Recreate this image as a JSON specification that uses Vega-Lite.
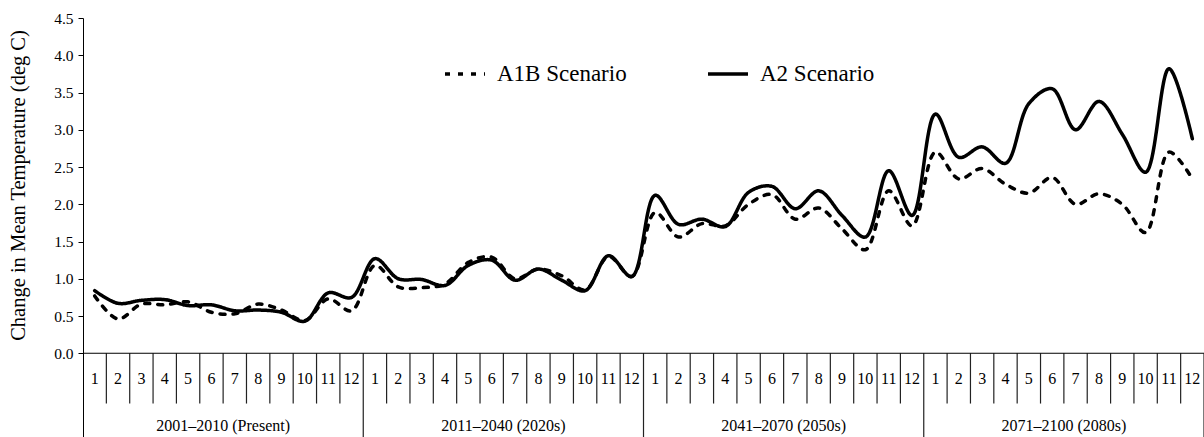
{
  "$schema": "https://vega.github.io/schema/vega-lite/v6.json",
  "width": 1121,
  "height": 419,
  "autosize": "none",
  "padding": {"left": 83, "top": 18, "right": 0, "bottom": 0},
  "background": "white",
  "config": {
    "view": {"stroke": null},
    "font": "Liberation Serif",
    "text": {"font": "Liberation Serif"},
    "axis": {"labelFont": "Liberation Serif", "titleFont": "Liberation Serif"},
    "legend": {"labelFont": "Liberation Serif", "titleFont": "Liberation Serif"}
  },
  "datasets": {
    "temps": [
      {"t": 1, "period": "2001–2010 (Present)", "month": 1, "A1B": 0.77, "A2": 0.84},
      {"t": 2, "period": "2001–2010 (Present)", "month": 2, "A1B": 0.46, "A2": 0.67},
      {"t": 3, "period": "2001–2010 (Present)", "month": 3, "A1B": 0.66, "A2": 0.71},
      {"t": 4, "period": "2001–2010 (Present)", "month": 4, "A1B": 0.65, "A2": 0.72},
      {"t": 5, "period": "2001–2010 (Present)", "month": 5, "A1B": 0.69, "A2": 0.64},
      {"t": 6, "period": "2001–2010 (Present)", "month": 6, "A1B": 0.55, "A2": 0.65},
      {"t": 7, "period": "2001–2010 (Present)", "month": 7, "A1B": 0.53, "A2": 0.57},
      {"t": 8, "period": "2001–2010 (Present)", "month": 8, "A1B": 0.66, "A2": 0.58},
      {"t": 9, "period": "2001–2010 (Present)", "month": 9, "A1B": 0.58, "A2": 0.55},
      {"t": 10, "period": "2001–2010 (Present)", "month": 10, "A1B": 0.44, "A2": 0.43},
      {"t": 11, "period": "2001–2010 (Present)", "month": 11, "A1B": 0.73, "A2": 0.81},
      {"t": 12, "period": "2001–2010 (Present)", "month": 12, "A1B": 0.57, "A2": 0.75},
      {"t": 13, "period": "2011–2040 (2020s)", "month": 1, "A1B": 1.18, "A2": 1.27},
      {"t": 14, "period": "2011–2040 (2020s)", "month": 2, "A1B": 0.89, "A2": 1.0},
      {"t": 15, "period": "2011–2040 (2020s)", "month": 3, "A1B": 0.88, "A2": 0.99},
      {"t": 16, "period": "2011–2040 (2020s)", "month": 4, "A1B": 0.93, "A2": 0.91},
      {"t": 17, "period": "2011–2040 (2020s)", "month": 5, "A1B": 1.22, "A2": 1.18},
      {"t": 18, "period": "2011–2040 (2020s)", "month": 6, "A1B": 1.29, "A2": 1.25},
      {"t": 19, "period": "2011–2040 (2020s)", "month": 7, "A1B": 1.0, "A2": 0.98},
      {"t": 20, "period": "2011–2040 (2020s)", "month": 8, "A1B": 1.13, "A2": 1.13},
      {"t": 21, "period": "2011–2040 (2020s)", "month": 9, "A1B": 1.04, "A2": 0.98},
      {"t": 22, "period": "2011–2040 (2020s)", "month": 10, "A1B": 0.85, "A2": 0.84},
      {"t": 23, "period": "2011–2040 (2020s)", "month": 11, "A1B": 1.3, "A2": 1.31},
      {"t": 24, "period": "2011–2040 (2020s)", "month": 12, "A1B": 1.03, "A2": 1.03},
      {"t": 25, "period": "2041–2070 (2050s)", "month": 1, "A1B": 1.89, "A2": 2.12},
      {"t": 26, "period": "2041–2070 (2050s)", "month": 2, "A1B": 1.56, "A2": 1.73},
      {"t": 27, "period": "2041–2070 (2050s)", "month": 3, "A1B": 1.74, "A2": 1.8},
      {"t": 28, "period": "2041–2070 (2050s)", "month": 4, "A1B": 1.71, "A2": 1.7},
      {"t": 29, "period": "2041–2070 (2050s)", "month": 5, "A1B": 2.0, "A2": 2.16},
      {"t": 30, "period": "2041–2070 (2050s)", "month": 6, "A1B": 2.13, "A2": 2.24},
      {"t": 31, "period": "2041–2070 (2050s)", "month": 7, "A1B": 1.8, "A2": 1.94},
      {"t": 32, "period": "2041–2070 (2050s)", "month": 8, "A1B": 1.95, "A2": 2.18},
      {"t": 33, "period": "2041–2070 (2050s)", "month": 9, "A1B": 1.67, "A2": 1.85},
      {"t": 34, "period": "2041–2070 (2050s)", "month": 10, "A1B": 1.39, "A2": 1.56},
      {"t": 35, "period": "2041–2070 (2050s)", "month": 11, "A1B": 2.18, "A2": 2.45},
      {"t": 36, "period": "2041–2070 (2050s)", "month": 12, "A1B": 1.71, "A2": 1.85},
      {"t": 37, "period": "2071–2100 (2080s)", "month": 1, "A1B": 2.7, "A2": 3.21},
      {"t": 38, "period": "2071–2100 (2080s)", "month": 2, "A1B": 2.34, "A2": 2.63},
      {"t": 39, "period": "2071–2100 (2080s)", "month": 3, "A1B": 2.48, "A2": 2.77},
      {"t": 40, "period": "2071–2100 (2080s)", "month": 4, "A1B": 2.27, "A2": 2.55},
      {"t": 41, "period": "2071–2100 (2080s)", "month": 5, "A1B": 2.15, "A2": 3.35},
      {"t": 42, "period": "2071–2100 (2080s)", "month": 6, "A1B": 2.36, "A2": 3.55},
      {"t": 43, "period": "2071–2100 (2080s)", "month": 7, "A1B": 2.0, "A2": 3.0},
      {"t": 44, "period": "2071–2100 (2080s)", "month": 8, "A1B": 2.14, "A2": 3.38},
      {"t": 45, "period": "2071–2100 (2080s)", "month": 9, "A1B": 2.0, "A2": 2.94},
      {"t": 46, "period": "2071–2100 (2080s)", "month": 10, "A1B": 1.62, "A2": 2.43},
      {"t": 47, "period": "2071–2100 (2080s)", "month": 11, "A1B": 2.7, "A2": 3.82},
      {"t": 48, "period": "2071–2100 (2080s)", "month": 12, "A1B": 2.34, "A2": 2.88}
    ]
  },
  "layer": [
    {
      "data": {"name": "temps"},
      "transform": [{"fold": ["A1B", "A2"], "as": ["scenario", "value"]}],
      "mark": {"type": "line", "interpolate": "catmull-rom", "color": "black", "strokeCap": "round", "strokeWidth": 3.5},
      "encoding": {
        "x": {"field": "t", "type": "quantitative", "scale": {"domain": [0.5, 48.5], "nice": false, "zero": false}, "axis": null},
        "y": {
          "field": "value",
          "type": "quantitative",
          "scale": {"domain": [-1.124, 4.5], "nice": false, "zero": false},
          "axis": {
            "values": [0, 0.5, 1, 1.5, 2, 2.5, 3, 3.5, 4, 4.5],
            "format": ".1f",
            "title": "Change in Mean Temperature (deg C)",
            "titleFont": "Liberation Serif",
            "titleFontSize": 20.5,
            "titleFontWeight": "normal",
            "titleColor": "black",
            "titleAngle": 270,
            "titleX": -65,
            "titleY": 167,
            "titleAlign": "center",
            "titleBaseline": "middle",
            "labelFont": "Liberation Serif",
            "labelFontSize": 15.5,
            "labelColor": "black",
            "labelPadding": 5,
            "tickSize": 5,
            "tickColor": "black",
            "domainColor": "black",
            "grid": false
          }
        },
        "strokeDash": {
          "field": "scenario",
          "type": "nominal",
          "scale": {"domain": ["A1B", "A2"], "range": [[5, 8], [1, 0]]},
          "legend": {
            "orient": "none",
            "legendX": 360,
            "legendY": 34,
            "direction": "horizontal",
            "title": null,
            "symbolType": "stroke",
            "symbolSize": 1600,
            "symbolStrokeWidth": 3.5,
            "symbolStrokeColor": "black",
            "labelFont": "Liberation Serif",
            "labelFontSize": 23,
            "labelColor": "black",
            "labelOffset": 10,
            "columnPadding": 74,
            "labelExpr": "datum.label + ' Scenario'"
          }
        }
      }
    },
    {
      "data": {"name": "temps"},
      "transform": [{"filter": "datum.month < 12"}],
      "mark": {"type": "rule", "color": "#222222", "strokeWidth": 1.2, "xOffset": 11.68},
      "encoding": {
        "x": {"field": "t", "type": "quantitative"},
        "y": {"datum": 0, "type": "quantitative"},
        "y2": {"datum": -0.675}
      }
    },
    {
      "data": {"name": "temps"},
      "transform": [{"filter": "datum.month == 12"}],
      "mark": {"type": "rule", "color": "#222222", "strokeWidth": 1.2, "xOffset": 11.68},
      "encoding": {
        "x": {"field": "t", "type": "quantitative"},
        "y": {"datum": 0, "type": "quantitative"},
        "y2": {"datum": -1.124}
      }
    },
    {
      "data": {"name": "temps"},
      "transform": [{"filter": "datum.t == 1"}],
      "mark": {"type": "rule", "color": "black", "strokeWidth": 1},
      "encoding": {
        "y": {"datum": 0, "type": "quantitative"}
      }
    },
    {
      "data": {"name": "temps"},
      "mark": {"type": "text", "font": "Liberation Serif", "fontSize": 16, "color": "black", "baseline": "middle"},
      "encoding": {
        "x": {"field": "t", "type": "quantitative"},
        "y": {"datum": -0.34, "type": "quantitative"},
        "text": {"field": "month", "type": "nominal"}
      }
    },
    {
      "data": {"name": "temps"},
      "transform": [{"filter": "datum.month == 6"}],
      "mark": {"type": "text", "font": "Liberation Serif", "fontSize": 16, "color": "black", "baseline": "middle", "xOffset": 11.68},
      "encoding": {
        "x": {"field": "t", "type": "quantitative"},
        "y": {"datum": -0.97, "type": "quantitative"},
        "text": {"field": "period", "type": "nominal"}
      }
    }
  ]
}
